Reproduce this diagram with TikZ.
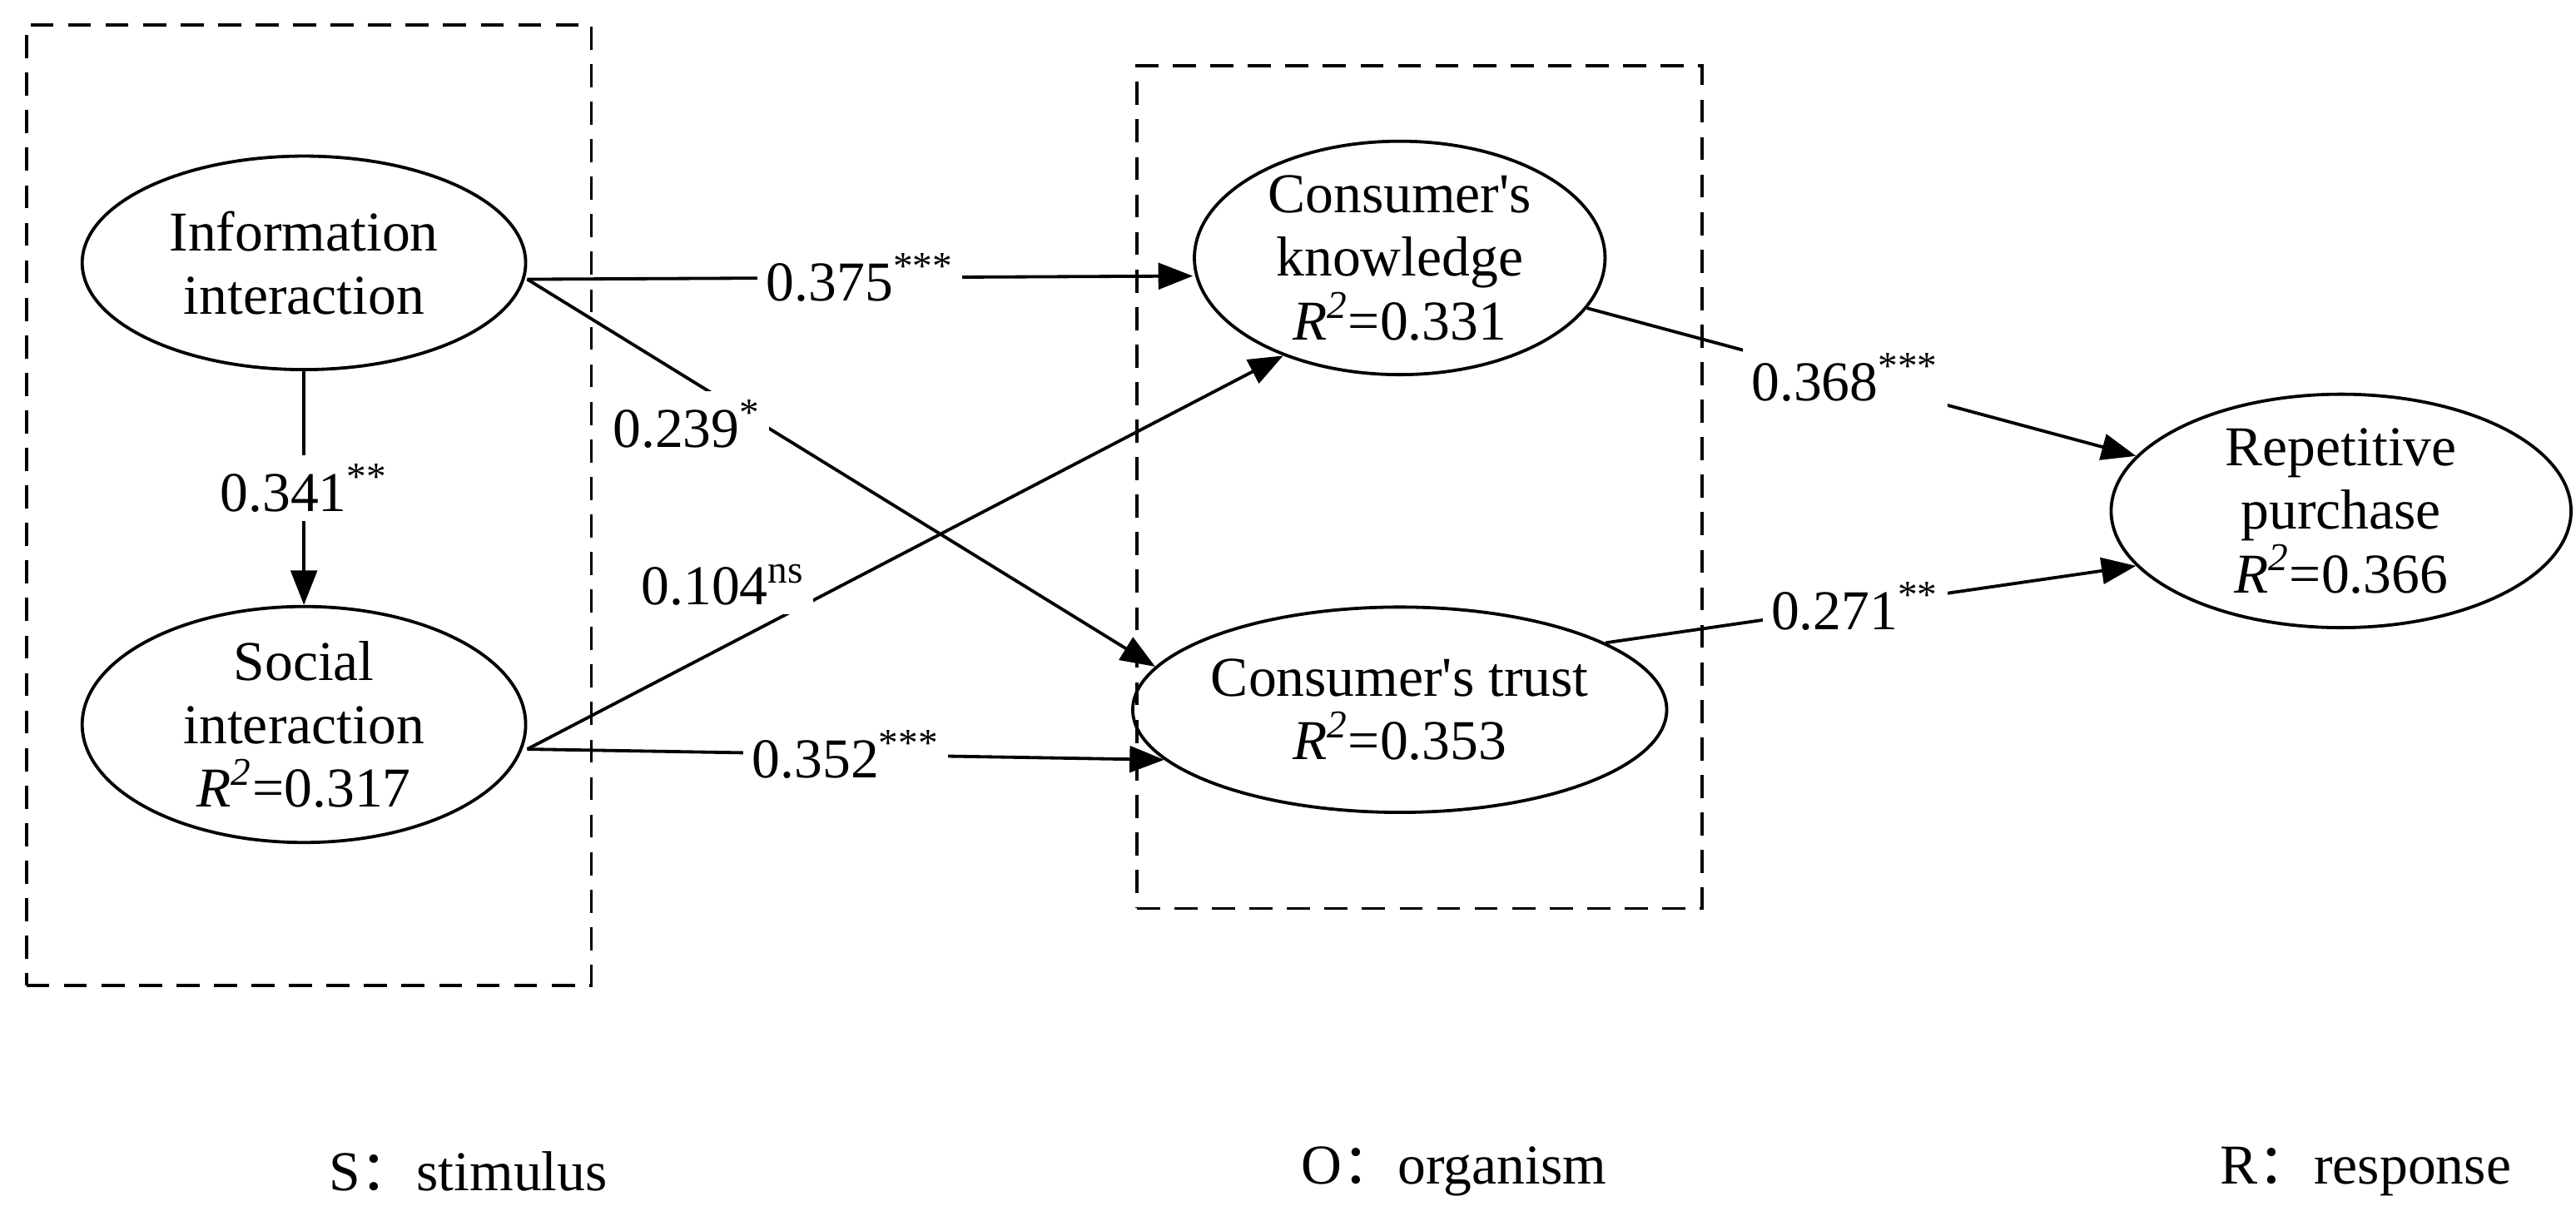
\documentclass[tikz,border=0pt]{standalone}
\usepackage{fontspec}
\setmainfont{Liberation Serif}
\newfontfamily\cjk{Noto Sans CJK SC}
\usetikzlibrary{shapes.geometric,arrows.meta}
\newcommand{\rsq}{\textit{R}\textsuperscript{\textit{2}}}
\begin{document}
\begin{tikzpicture}[x=0.02cm,y=-0.02cm,
  every node/.style={font=\fontsize{19.5}{22}\selectfont},
  ell/.style={draw,ellipse,line width=1.1pt,minimum width=5.4cm,minimum height=2.6cm,inner sep=0pt,align=center},
  arr/.style={line width=1.1pt,-{Triangle[length=0.42cm,width=0.32cm]}},
  lab/.style={fill=white,inner sep=3pt},
  box/.style={draw,dashed,line width=1.1pt,dash pattern=on 8pt off 5pt}]
\useasboundingbox (0,0) rectangle (1568,740);
\node[box,minimum width=6.88cm,minimum height=11.7cm] (sbox) at (188,307.5) {};
\node[box,minimum width=6.88cm,minimum height=10.26cm] (obox) at (864,296.5) {};
\node[ell] (info) at (185,160) {Information\\interaction};
\node[ell] (soc) at (185,441) {Social\\interaction\\\rsq=0.317};
\node[ell,minimum width=5cm,minimum height=2.5cm] (kn) at (852,157) {Consumer\textquotesingle s\\knowledge\\\rsq=0.331};
\node[ell,minimum width=5cm,minimum height=2.5cm] (tr) at (852,432) {Consumer\textquotesingle s trust\\\rsq=0.353};
\node[ell,minimum width=5.6cm,minimum height=2.54cm] (rp) at (1425,311) {Repetitive\\purchase\\\rsq=0.366};
\draw[arr] ([yshift=-0.2cm]info.east) -- node[lab]{0.375\textsuperscript{***}} ([yshift=-0.22cm]kn.west);
\draw[arr] ([yshift=-0.2cm]info.east) -- (tr.170);
\node[lab] (l239) at (418,258) {0.239\textsuperscript{*}};
\draw[arr] ([yshift=-0.3cm]soc.east) -- (kn.-140);
\node[lab] (l104) at (440,356) {0.104\textsuperscript{ns}};
\draw[arr] ([yshift=-0.3cm]soc.east) -- node[lab,pos=0.5]{0.352\textsuperscript{***}} (tr.-168);
\draw[arr] (info.south) -- node[lab]{0.341\textsuperscript{**}} (soc.north);
\draw[arr] (kn.-15) -- node[lab,pos=0.47]{0.368\textsuperscript{***}} (rp.165);
\draw[arr] (tr.18) -- node[lab,pos=0.47]{0.271\textsuperscript{**}} (rp.-165);
\node (s) at (285,713) {S{\cjk ：}stimulus};
\node (o) at (885,713) {O{\cjk ：}organism};
\node (r) at (1440,713) {R{\cjk ：}response};
\end{tikzpicture}
\end{document}
